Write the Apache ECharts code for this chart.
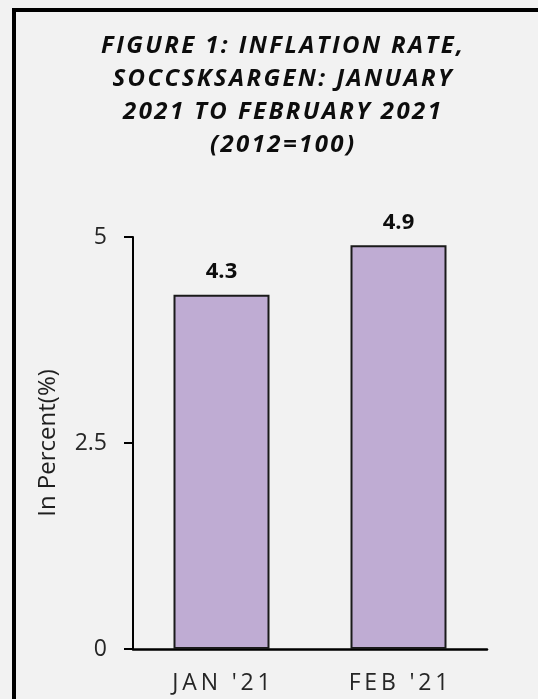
<!DOCTYPE html>
<html>
<head>
<meta charset="utf-8">
<style>
  html, body { margin: 0; padding: 0; background: #f2f2f2; }
  #chart { width: 538px; height: 699px; }
</style>
<script src="https://cdn.jsdelivr.net/npm/echarts@6/dist/echarts.min.js"></script>
</head>
<body>
<div id="chart"></div>
<script>
// Inflation rate, SOCCSKSARGEN (2012=100)
const categories = ["JAN '21", "FEB '21"];
const inflationRates = [4.3, 4.9];
const yTicks = [0, 2.5, 5];
const titleLines = [
  'FIGURE 1: INFLATION RATE,',
  'SOCCSKSARGEN: JANUARY',
  '2021 TO FEBRUARY 2021',
  '(2012=100)'
];

// Canvas text has no letter-spacing option, so widen the tracking with thin spaces
function track(str, gap) {
  return Array.from(str).join(gap);
}

const chart = echarts.init(document.getElementById('chart'), null, { renderer: 'canvas' });

chart.setOption({
  backgroundColor: '#f2f2f2',
  animation: false,
  title: {
    text: titleLines.map(l => track(l, '\u200A')).join('\n'),
    left: 277,
    top: 25,
    textAlign: 'center',
    textStyle: {
      fontFamily: 'Open Sans',
      fontWeight: 'bold',
      fontStyle: 'italic',
      fontSize: 24,
      lineHeight: 33,
      color: '#0d0d0d'
    }
  },
  graphic: [{
    type: 'rect',
    shape: { x: 14, y: 10, width: 700, height: 900 },
    style: { fill: 'none', stroke: '#000', lineWidth: 4 },
    silent: true
  }],
  grid: { left: 133, right: 51, top: 237, bottom: 50 },
  xAxis: {
    type: 'category',
    data: categories,
    axisLine: { lineStyle: { color: '#000', width: 2.5 } },
    axisTick: { show: false },
    axisLabel: {
      margin: 23,
      fontFamily: 'Open Sans',
      fontSize: 23,
      color: '#262626',
      formatter: v => track(v, '\u2009')
    }
  },
  yAxis: {
    type: 'value',
    min: 0,
    max: 5,
    interval: 2.5,
    name: 'In Percent(%)',
    nameLocation: 'middle',
    nameGap: 73,
    nameTextStyle: { fontFamily: 'Open Sans', fontSize: 24, color: '#1f1f1f' },
    axisLine: { show: true, lineStyle: { color: '#000', width: 2 } },
    axisTick: { show: true, length: 9, lineStyle: { color: '#000', width: 2 } },
    splitLine: { show: false },
    axisLabel: {
      margin: 26,
      fontFamily: 'Open Sans',
      fontSize: 23,
      color: '#262626',
      formatter: v => (yTicks.includes(v) ? String(v) : '')
    }
  },
  series: [{
    type: 'bar',
    data: inflationRates,
    barWidth: 96,
    itemStyle: { color: '#bfacd3', borderColor: '#1a1a1a', borderWidth: 2 },
    label: {
      show: true,
      position: 'top',
      distance: 12,
      fontFamily: 'Open Sans',
      fontWeight: 'bold',
      fontSize: 22,
      color: '#0d0d0d',
      formatter: p => p.value.toFixed(1)
    }
  }]
});
</script>
</body>
</html>
